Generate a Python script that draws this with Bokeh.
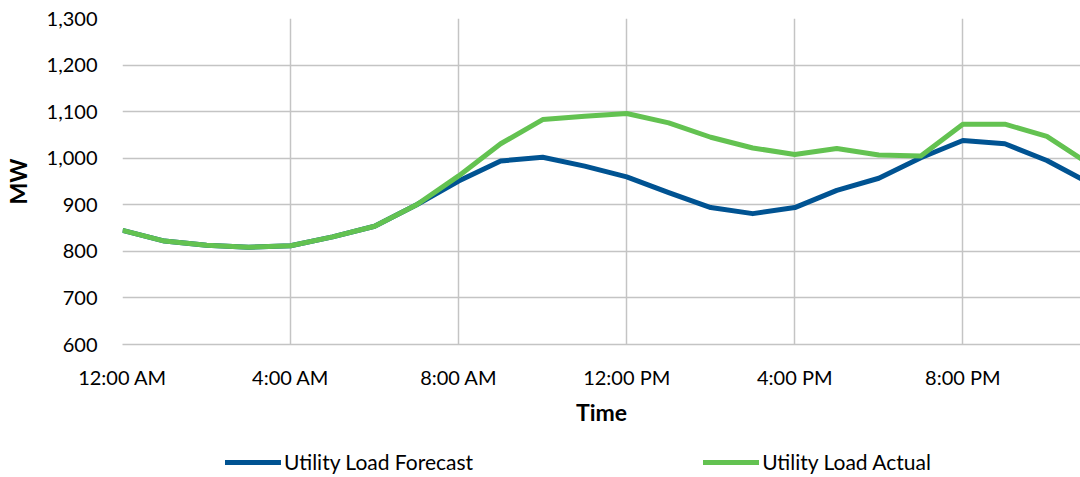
from bokeh.plotting import figure
from bokeh.layouts import column
from bokeh.models import (ColumnDataSource, Range1d, FixedTicker, NumeralTickFormatter,
                          Legend, LegendItem)
from bokeh.embed import file_html
from bokeh.resources import INLINE

# Hourly load, hour 0 = 12:00 AM
hours = list(range(24))
forecast = [845, 822, 813, 809, 812, 831, 854, 900, 951, 994, 1002, 983,
            960, 926, 894, 881, 894, 931, 957, 1001, 1038, 1031, 995, 947]
actual = [845, 822, 813, 809, 812, 831, 854, 900, 962, 1031, 1083, 1090,
          1096, 1076, 1045, 1022, 1008, 1021, 1007, 1005, 1073, 1073, 1047, 988]

tick_hours = [0, 4, 8, 12, 16, 20]
tick_labels = ["12:00 AM", "4:00 AM", "8:00 AM", "12:00 PM", "4:00 PM", "8:00 PM"]
series_names = ["Utility Load Forecast", "Utility Load Actual"]

FONT = "Lato"
BLUE = "#005392"
GREEN = "#63C251"
GRID = "#C4C4C4"
TEXT = "#000000"
LW = 5

src = ColumnDataSource(dict(h=hours, forecast=forecast, actual=actual))

p = figure(width=1080, height=442, output_backend="svg", toolbar_location=None,
           x_range=Range1d(0, 22.8), y_range=Range1d(600, 1300),
           min_border_left=119, min_border_right=0, min_border_top=18,
           min_border_bottom=98)
p.outline_line_color = None
p.background_fill_color = "white"
p.border_fill_color = "white"

p.line("h", "forecast", source=src, line_color=BLUE, line_width=LW, line_join="round")
p.line("h", "actual", source=src, line_color=GREEN, line_width=LW, line_join="round")

# x axis
xa = p.xaxis[0]
xa.ticker = FixedTicker(ticks=tick_hours)
xa.major_label_overrides = {h: lab for h, lab in zip(tick_hours, tick_labels)}
xa.axis_line_color = GRID
xa.axis_line_width = 1.5
xa.major_tick_line_color = None
xa.minor_tick_line_color = None
xa.major_label_standoff = 14
xa.major_label_text_font = FONT
xa.major_label_text_font_size = "20px"
xa.major_label_text_color = TEXT
xa.axis_label = "Time"
xa.axis_label_text_font = FONT
xa.axis_label_text_font_size = "23px"
xa.axis_label_text_font_style = "bold"
xa.axis_label_text_color = TEXT
xa.axis_label_standoff = 6

# y axis
ya = p.yaxis[0]
ya.ticker = FixedTicker(ticks=list(range(600, 1301, 100)))
ya.formatter = NumeralTickFormatter(format="0,0")
ya.axis_line_color = None
ya.major_tick_line_color = None
ya.minor_tick_line_color = None
ya.major_label_standoff = 19
ya.major_label_text_font = FONT
ya.major_label_text_font_size = "20px"
ya.major_label_text_color = TEXT
ya.axis_label = "MW"
ya.axis_label_text_font = FONT
ya.axis_label_text_font_size = "23px"
ya.axis_label_text_font_style = "bold"
ya.axis_label_text_color = TEXT
ya.axis_label_standoff = 12

p.xgrid.grid_line_color = GRID
p.xgrid.grid_line_width = 1.5
p.xgrid.ticker = FixedTicker(ticks=tick_hours)
p.ygrid.grid_line_color = GRID
p.ygrid.grid_line_width = 1.5

# Legend strip under the chart; its frame lines up with the chart frame,
# and the series lines drawn here fall outside its 0..1 ranges.
lg = figure(width=1080, height=35, output_backend="svg", toolbar_location=None,
            x_range=Range1d(0, 1), y_range=Range1d(0, 1),
            min_border_left=0, min_border_right=0, min_border_top=0,
            min_border_bottom=0)
lg.axis.visible = False
lg.grid.visible = False
lg.outline_line_color = None
lg_f = lg.line("h", "forecast", source=src, line_color=BLUE, line_width=LW, line_cap="round")
lg_a = lg.line("h", "actual", source=src, line_color=GREEN, line_width=LW, line_cap="round")
legend = Legend(items=[LegendItem(label=series_names[0], renderers=[lg_f]),
                       LegendItem(label=series_names[1], renderers=[lg_a])],
                orientation="horizontal", location=(103, 3),
                glyph_width=56, glyph_height=20, label_height=20, label_standoff=3,
                spacing=230, label_text_font=FONT, label_text_font_size="21px",
                label_text_color=TEXT, label_text_baseline="middle",
                border_line_color=None, background_fill_alpha=0, padding=0, margin=0)
lg.add_layout(legend, "center")

open("out.html", "w").write(file_html(column(p, lg, spacing=0), INLINE))
